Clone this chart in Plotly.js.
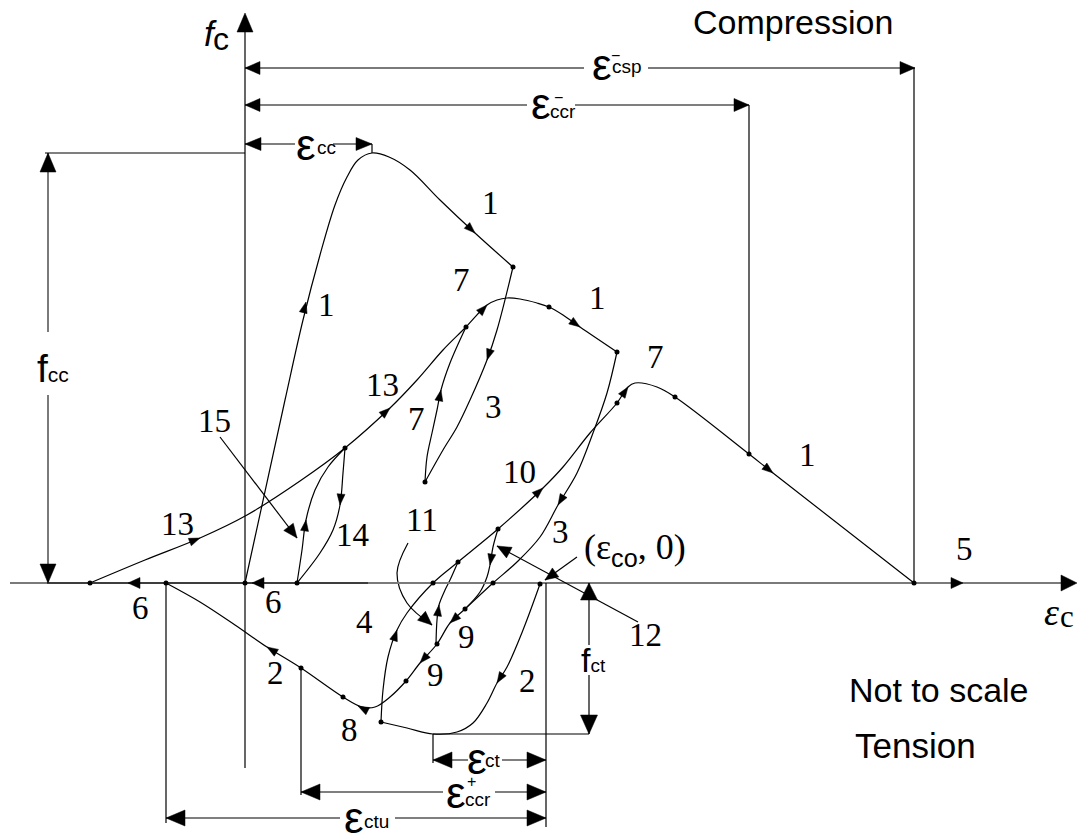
<!DOCTYPE html>
<html><head><meta charset="utf-8">
<script src="https://cdn.plot.ly/plotly-3.0.1.min.js"></script>
<style>html,body{margin:0;padding:0;background:#fff;}#chart{width:1079px;height:834px;}</style>
</head><body><div id="chart"></div>
<script>
// ---- curve data (strain, stress) in diagram units, origin at axes crossing ----
const path1 = [[0,0],[40,183],[58,263],[75,328],[90,378],[102,406],[113,423],[127,430],[144,426],[165,413],[195,383],[230,350],[268,316]];
const path3a = [[268,316],[252,253],[242,223],[225,183],[212,156],[198,133],[180,101]];
const path7a = [[180,101],[182,126],[187,150],[192,173],[196,193],[205,220],[221,256]];
const path13 = [[-155,0],[-100,23],[-45,45],[2,68],[55,102],[100,135],[145,175],[172,203],[198,233],[221,256],[242,278],[252,283],[262,285],[275,284],[292,280],[304,276],[318,268],[335,256],[372,231]];
const path3b = [[372,231],[362,190],[348,150],[332,110],[313,78],[295,46],[272,21],[248,0],[220,-26],[205,-40],[192,-61],[175,-80],[161,-98],[145,-114],[130,-124],[117,-124],[98,-114],[56,-85],[22,-64],[-10,-42],[-45,-19],[-79,0]];
const path2r = [[295,-1],[278,-47],[262,-84],[252,-100],[242,-120],[228,-140],[212,-149],[188,-151],[162,-145],[136,-139]];
const path4 = [[136,-139],[138,-107],[143,-74],[152,-47],[162,-30],[188,0],[213,21],[253,54],[298,95],[318,116],[345,150],[372,180],[383,196],[390,200],[412,196],[430,186],[504,129],[528,110],[669,0]];
const path11 = [[253,54],[248,36],[245,18],[242,6],[235,-9],[220,-26]];
const path9r = [[191,-61],[192,-37],[194,-22],[200,-7],[205,3],[213,21]];
const path14u = [[52,0],[57,33],[61,63],[70,93],[83,116],[100,135]];
const path14d = [[100,135],[98,110],[95,78],[88,53],[75,30],[52,0]];
const leader11 = [[163,40],[152,10],[162,-20],[187,-42]];

const curves = [path1,path3a,path7a,path13,path3b,path2r,path4,path11,path9r,path14u,path14d];

// state points (dots)
const dots = [[268,316],[221,256],[304,276],[372,231],[100,135],[180,101],[372,180],[430,186],[504,129],[669,0],[253,54],[213,21],[188,0],[248,0],[220,-26],[192,-61],[161,-98],[136,-139],[98,-114],[56,-85],[295,-1],[52,0],[0,0],[-79,0],[-155,0]];

// direction arrows on curves: [curve, x, y]
const curveArrows = [
  [path1,61,281],[path1,230,350],[path3a,242,223],[path7a,196,193],
  [path13,-45,45],[path13,145,175],[path13,242,278],[path13,335,256],
  [path3b,313,78],[path3b,205,-40],[path3b,175,-80],[path3b,113,-123],[path3b,22,-64],
  [path2r,252,-100],[path4,152,-47],[path4,298,95],[path4,383,196],[path4,528,110],
  [path11,245,18],[path9r,194,-22],[path14u,61,63],[path14d,95,78]
];

// path labels
const numText = ["1","1","1","1","7","7","7","3","3","13","13","15","14","6","6","4","10","11","9","9","2","2","8","12","5"];
const numX = [81,245,352,562,216,171,410,248,315,-68,137,-31,107,-105,28,119,274,177,221,190,30,282,104,400,719];
const numY = [278,380,285,128,303,164,226,176,51,59,198,162,48,-25,-19,-39,111,63,-54,-92,-90,-98,-147,-52,34];

// dimension values
const eCsp = 670, eCcr = 504, eCc = 127, fCc = 430, eCo = 301, fCt = -151;
const eCt = 188, eCcrPlus = 56, eCtu = -79;

// ---- build geometry ----
const blk = {x:[],y:[]}, gry = {x:[],y:[]}, heads = {x:[],y:[]};
function seg(o,x1,y1,x2,y2){o.x.push(x1,x2,null);o.y.push(y1,y2,null);}
function head(tx,ty,ux,uy,L,W){
  const n=Math.hypot(ux,uy); ux/=n; uy/=n;
  const bx=tx-ux*L, by=ty-uy*L, nx=-uy, ny=ux;
  heads.x.push(tx,bx+nx*W/2,bx-nx*W/2,tx,null);
  heads.y.push(ty,by+ny*W/2,by-ny*W/2,ty,null);
}
function curveHead(pts,px,py){
  let best=null;
  for(let i=0;i<pts.length-1;i++){
    const [x1,y1]=pts[i],[x2,y2]=pts[i+1];
    const dx=x2-x1,dy=y2-y1,l2=dx*dx+dy*dy;
    let t=((px-x1)*dx+(py-y1)*dy)/l2; t=Math.max(0,Math.min(1,t));
    const d=(x1+t*dx-px)**2+(y1+t*dy-py)**2;
    if(!best||d<best.d) best={d,ux:dx,uy:dy};
  }
  head(px,py,best.ux,best.uy,11,8);
}
curveArrows.forEach(a=>curveHead(a[0],a[1],a[2]));

// axes
seg(gry,-235,0,820,0); head(832,0,1,0,16,16);
seg(blk,-198,0,123,0);
seg(blk,0,-185,0,555); head(0,570,0,1,19,16);
head(-117,0,-1,0,12,11); head(7,0,-1,0,12,11); head(718,0,1,0,12,11);
// eps_csp
seg(gry,0,515,339,515); seg(gry,403,515,eCsp,515); seg(blk,eCsp-1,515,eCsp-1,0);
head(0,515,-1,0,15,13); head(eCsp,515,1,0,15,13);
// eps_ccr
seg(blk,0,478,282,478); seg(blk,330,478,eCcr,478); seg(blk,eCcr,478,eCcr,129);
head(0,478,-1,0,15,13); head(eCcr,478,1,0,15,13);
// eps_cc
seg(blk,0,439,50,439); seg(blk,88,439,eCc,439); seg(blk,eCc,439,eCc,fCc);
head(0,439,-1,0,16,13); head(eCc,439,1,0,16,13);
// f_cc
seg(blk,-200,fCc,0,fCc); seg(gry,-197,fCc,-197,251); seg(gry,-197,188,-197,0);
head(-197,fCc,0,1,19,16); head(-197,0,0,-1,19,16);
// f_ct
seg(blk,344,0,344,-62); seg(blk,344,-92,344,fCt); seg(blk,eCt,fCt,344,fCt);
head(344,0,0,1,17,17); head(344,fCt,0,-1,19,17);
// right reference line
seg(blk,eCo,0,eCo,-244);
// eps_ct
seg(blk,eCt,-177,223,-177); seg(blk,257,-177,eCo,-177); seg(blk,eCt,fCt,eCt,-180);
head(eCt,-177,-1,0,19,16); head(eCo,-177,1,0,19,16);
// eps_ccr+
seg(blk,eCcrPlus,-209,198,-209); seg(blk,250,-209,eCo,-209); seg(blk,eCcrPlus,-85,eCcrPlus,-212);
head(eCcrPlus,-209,-1,0,19,16); head(eCo,-209,1,0,19,16);
// eps_ctu
seg(blk,eCtu,-235,95,-235); seg(blk,150,-235,eCo,-235); seg(blk,eCtu,0,eCtu,-240);
head(eCtu,-235,-1,0,19,16); head(eCo,-235,1,0,19,16);
// leaders
seg(blk,-25,146,52,45); head(52,45,77,-101,14,12);
seg(blk,393,-39,252,37); head(252,37,-141,76,14,12);
seg(blk,332,26,300,3); head(300,3,-32,-23,13,11);
head(187,-42,25,-22,14,12);

const traces = [];
curves.concat([leader11]).forEach(c=>traces.push({
  type:'scatter',mode:'lines',x:c.map(p=>p[0]),y:c.map(p=>p[1]),
  line:{color:'#000',width:1.2,shape:'spline',smoothing:1},hoverinfo:'skip'}));
traces.push({type:'scatter',mode:'lines',x:gry.x,y:gry.y,line:{color:'#7a7a7a',width:2},hoverinfo:'skip',connectgaps:false});
traces.push({type:'scatter',mode:'lines',x:blk.x,y:blk.y,line:{color:'#000',width:1.2},hoverinfo:'skip',connectgaps:false});
traces.push({type:'scatter',mode:'lines',x:heads.x,y:heads.y,fill:'toself',fillcolor:'#000',line:{color:'#000',width:0.5},hoverinfo:'skip',connectgaps:false});
traces.push({type:'scatter',mode:'markers',x:dots.map(p=>p[0]),y:dots.map(p=>p[1]),marker:{color:'#000',size:5},hoverinfo:'skip'});

const SANS='Liberation Sans, Arial, sans-serif', SERIF='Liberation Serif, Times New Roman, serif';
function T(text,x,y,size,fam){return {text,x,y,xref:'x',yref:'y',showarrow:false,xanchor:'center',yanchor:'middle',borderpad:0,font:{family:fam,size,color:'#000'}};}
const ann = [];
numText.forEach((t,i)=>ann.push(T(t,numX[i],numY[i],33,SERIF)));
ann.push(T('Compression',548,561,34,SANS));
ann.push(T('Not to scale',694,-107,34,SANS));
ann.push(T('Tension',670,-162,35,SANS));
ann.push(T('<i>f</i>',-35,550,35,SANS));
ann.push(T('c',-24,544,32,SANS));
ann.push(T('<i>ε</i>',806,-29,38,SERIF));
ann.push(T('c',822,-33,31,SERIF));
ann.push(T('f<span style="font-size:21px">cc</span>',-192,215,39,SANS));
ann.push(T('f<span style="font-size:19px">ct</span>',348,-77,34,SANS));
ann.push(T('(ε<sub><span style="font-family:Liberation Sans">co</span></sub>, 0)',390,34,36,SERIF));
// dimension labels
const dimE = [[357,519],[296,480],[61,439],[232,-175],[211,-209],[109,-234]];
dimE.forEach(p=>ann.push(T('ε',p[0],p[1],44,SANS)));
const subT = ['csp','ccr','cc','ct','ccr','ctu'];
const subX = [382,318,81,248,233,131], subY = [517,472,436,-177,-216,-238];
subT.forEach((s,i)=>ann.push(T(s,subX[i],subY[i],19,SANS)));
ann.push(T('−',370,528,16,SANS));
ann.push(T('−',313,486,16,SANS));
ann.push(T('+',226,-198,16,SANS));

const layout = {width:1079,height:834,margin:{l:0,r:0,t:0,b:0},paper_bgcolor:'#fff',plot_bgcolor:'#fff',showlegend:false,
  xaxis:{range:[-245,834],visible:false,fixedrange:true},
  yaxis:{range:[-251,583],visible:false,fixedrange:true},
  annotations:ann};
Plotly.newPlot('chart',traces,layout,{staticPlot:true,displayModeBar:false});
</script></body></html>
